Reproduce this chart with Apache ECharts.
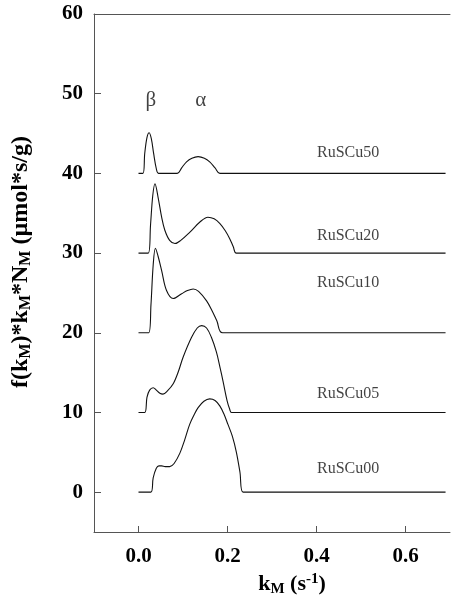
<!DOCTYPE html>
<html>
<head>
<meta charset="utf-8">
<script src="https://cdn.jsdelivr.net/npm/echarts@6/dist/echarts.min.js"></script>
<style>
  html, body { margin: 0; padding: 0; background: #fff; }
  #chart { width: 451px; height: 598px; }
</style>
</head>
<body>
<div id="chart"></div>
<script>
// kM (s^-1) against f(kM)*kM*NM, each curve offset by 10
const km50 = [0, 0.010, 0.014, 0.019, 0.024, 0.029, 0.034, 0.040, 0.045, 0.087, 0.097, 0.108, 0.120, 0.134, 0.148, 0.160, 0.172, 0.183, 0.69];
const f50  = [40, 40, 42.5, 44.5, 45.1, 44.3, 42.5, 40.6, 40, 40, 40.7, 41.45, 41.9, 42.1, 41.9, 41.45, 40.7, 40, 40];

const km20 = [0, 0.022, 0.027, 0.032, 0.037, 0.044, 0.052, 0.059, 0.070, 0.082, 0.095, 0.115, 0.138, 0.156, 0.170, 0.183, 0.195, 0.205, 0.213, 0.220, 0.69];
const f20  = [30, 30, 33.5, 37.2, 38.7, 37.0, 34.5, 32.9, 31.6, 31.2, 31.6, 32.6, 33.9, 34.5, 34.3, 33.7, 32.8, 31.8, 30.8, 30, 30];

const km10 = [0, 0.023, 0.028, 0.033, 0.038, 0.044, 0.052, 0.063, 0.078, 0.097, 0.110, 0.123, 0.135, 0.153, 0.165, 0.176, 0.189, 0.69];
const f10  = [20, 20, 23.5, 28.5, 30.6, 29.6, 27.8, 25.3, 24.3, 24.9, 25.3, 25.5, 25.2, 24.0, 22.8, 21.5, 20, 20];

const km05 = [0, 0.014, 0.019, 0.025, 0.033, 0.040, 0.048, 0.055, 0.065, 0.078, 0.090, 0.100, 0.119, 0.132, 0.142, 0.153, 0.164, 0.175, 0.183, 0.190, 0.199, 0.205, 0.209, 0.69];
const f05  = [10, 10, 11.9, 12.8, 13.1, 12.8, 12.4, 12.3, 12.7, 13.6, 15.2, 16.9, 19.4, 20.6, 20.9, 20.6, 19.4, 17.6, 15.7, 13.9, 11.5, 10.4, 10, 10];

const km00 = [0, 0.028, 0.033, 0.040, 0.046, 0.052, 0.060, 0.070, 0.080, 0.093, 0.104, 0.115, 0.125, 0.134, 0.147, 0.160, 0.172, 0.183, 0.192, 0.201, 0.211, 0.220, 0.228, 0.235, 0.69];
const f00  = [0, 0, 1.8, 3.0, 3.3, 3.3, 3.2, 3.2, 3.6, 4.9, 6.6, 8.5, 9.7, 10.6, 11.4, 11.7, 11.5, 10.8, 9.8, 8.5, 7.0, 5.0, 2.5, 0, 0];

const sampleNames = ["RuSCu50", "RuSCu20", "RuSCu10", "RuSCu05", "RuSCu00"];
const sampleLabelX = [0.471, 0.471, 0.471, 0.471, 0.471];
const sampleLabelY = [42.6, 32.2, 26.3, 12.3, 2.9];

const peakNames = ["β", "α"];
const peakX = [0.028, 0.14];
const peakY = [49.2, 49.2];

const xTicks = [0, 0.2, 0.4, 0.6];
const yTicks = [0, 10, 20, 30, 40, 50, 60];

const serif = "'Liberation Serif', 'DejaVu Serif', serif";
const axisColor = "#555";

const pairs = (xs, ys) => xs.map((x, i) => [x, ys[i]]);

const chart = echarts.init(document.getElementById("chart"));

const curve = (name, xs, ys) => ({
  name,
  type: "line",
  data: pairs(xs, ys),
  showSymbol: false,
  smooth: 0.35,
  lineStyle: { color: "#111", width: 1.1 },
  animation: false,
});

const textSeries = (names, xs, ys, size) => ({
  type: "scatter",
  symbolSize: 0,
  data: names.map((n, i) => [xs[i], ys[i], n]),
  label: {
    show: true,
    position: "inside",
    formatter: (p) => p.value[2],
    color: "#111",
    fontFamily: serif,
    fontSize: size,
  },
  silent: true,
  animation: false,
});

const option = {
  animation: false,
  grid: { left: 94, right: 1, top: 14, bottom: 66 },
  xAxis: [
    {
      type: "value",
      min: -0.1,
      max: 0.7,
      splitLine: { show: false },
      axisLine: { onZero: false, lineStyle: { color: axisColor, width: 1 } },
      axisTick: { inside: true, length: 6, customValues: xTicks, lineStyle: { color: axisColor } },
      axisLabel: {
        customValues: xTicks,
        formatter: (v) => v.toFixed(1),
        margin: 14,
        color: "#000",
        fontFamily: serif,
        fontWeight: "bold",
        fontSize: 21,
      },
    },
    {
      type: "value",
      position: "top",
      min: -0.1,
      max: 0.7,
      splitLine: { show: false },
      axisLine: { onZero: false, lineStyle: { color: axisColor, width: 1 } },
      axisTick: { show: false },
      axisLabel: { show: false },
    },
  ],
  yAxis: {
    type: "value",
    min: -5,
    max: 60,
    splitLine: { show: false },
    axisLine: { show: true, onZero: false, lineStyle: { color: axisColor, width: 1 } },
    axisTick: { show: true, inside: true, length: 7, customValues: yTicks, lineStyle: { color: axisColor } },
    axisLabel: {
      customValues: yTicks,
      margin: 11,
      color: "#000",
      fontFamily: serif,
      fontWeight: "bold",
      fontSize: 21,
    },
  },
  graphic: [
    {
      type: "text",
      x: 21,
      y: 262,
      rotation: Math.PI / 2,
      style: {
        text: "f(k{s|M})*k{s|M}*N{s|M} (µmol*s/g)",
        fill: "#000",
        font: "bold 24px " + serif,
        align: "center",
        verticalAlign: "middle",
        rich: {
          s: { fontSize: 16, fontWeight: "bold", fontFamily: serif, padding: [10, 0, 0, 0] },
        },
      },
    },
    {
      type: "text",
      x: 292,
      y: 584,
      style: {
        text: "k{s|M} (s{p|-1})",
        fill: "#000",
        font: "bold 22px " + serif,
        align: "center",
        verticalAlign: "middle",
        rich: {
          s: { fontSize: 15, fontWeight: "bold", fontFamily: serif, padding: [10, 0, 0, 0] },
          p: { fontSize: 15, fontWeight: "bold", fontFamily: serif, padding: [0, 0, 10, 0] },
        },
      },
    },
  ],
  series: [
    curve("RuSCu50", km50, f50),
    curve("RuSCu20", km20, f20),
    curve("RuSCu10", km10, f10),
    curve("RuSCu05", km05, f05),
    curve("RuSCu00", km00, f00),
    textSeries(sampleNames, sampleLabelX, sampleLabelY, 16),
    textSeries(peakNames, peakX, peakY, 21),
  ],
};

chart.setOption(option);
</script>
</body>
</html>
